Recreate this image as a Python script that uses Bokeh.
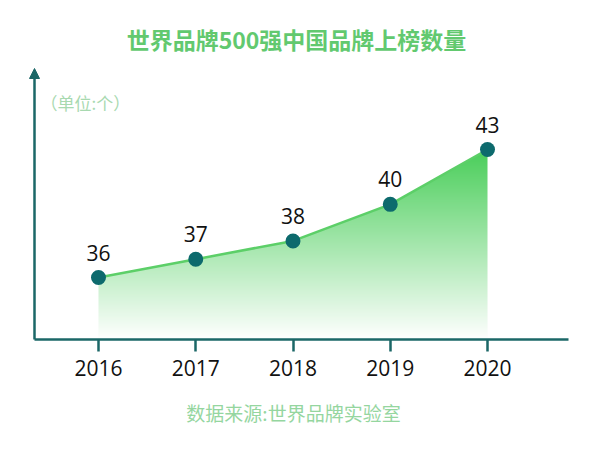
import numpy as np
from bokeh.plotting import figure
from bokeh.models import Range1d, FixedTicker, Arrow, NormalHead, Label
from bokeh.embed import file_html
from bokeh.resources import INLINE
from bokeh.core.properties import value

# ---- data ----
title_text = "世界品牌500强中国品牌上榜数量"
unit_text = "（单位:个）"
source_text = "数据来源:世界品牌实验室"
years = [2016, 2017, 2018, 2019, 2020]
year_labels = ["2016", "2017", "2018", "2019", "2020"]
counts = [36, 37, 38, 40, 43]

# ---- layout (pixels) ----
W, H = 600, 458
AX_L, AX_R, AX_T, AX_B = 34, 568, 68, 339
px_first, px_last = 98, 487
py_low, py_high = 277, 149

sx = (px_last - px_first) / (years[-1] - years[0])
sy = (py_low - py_high) / (max(counts) - min(counts))
x0 = years[0] - px_first / sx
x1 = years[-1] + (W - px_last) / sx
y0 = min(counts) - (H - py_low) / sy
y1 = max(counts) + py_high / sy


def xd(px):
    return x0 + px / sx


def yd(py):
    return y0 + (H - py) / sy


teal = "#1b6767"
dot_color = "#0d6a6d"
line_green = "#5ccf68"
top_rgb = (74, 206, 90)

p = figure(width=W, height=H, x_range=Range1d(x0, x1), y_range=Range1d(y0, y1),
           output_backend="svg", toolbar_location=None, y_axis_location=None,
           min_border=0, outline_line_color=None,
           background_fill_color="white", border_fill_color="white")
p.grid.visible = False

# x axis, placed inside the frame
ax = p.xaxis[0]
ax.fixed_location = yd(AX_B)
ax.bounds = (xd(AX_L), xd(AX_R))
ax.ticker = FixedTicker(ticks=years)
ax.major_label_overrides = {y: s for y, s in zip(years, year_labels)}
ax.axis_line_color = teal
ax.axis_line_width = 2.5
ax.major_tick_line_color = teal
ax.major_tick_line_width = 2.5
ax.major_tick_out = 12
ax.major_tick_in = 0
ax.minor_tick_out = 0
ax.minor_tick_in = 0
ax.major_label_text_font = "Open Sans"
ax.major_label_text_font_size = "21px"
ax.major_label_text_color = "#111111"
ax.major_label_standoff = 8

# gradient area: vertical gradient image masked above the curve
N = 256
t = np.linspace(0.0, 1.0, N)
img = np.empty((N, 1), dtype=np.uint32)
view = img.view(dtype=np.uint8).reshape((N, 1, 4))
view[:, 0, 0] = (255 + (top_rgb[0] - 255) * t).astype(np.uint8)
view[:, 0, 1] = (255 + (top_rgb[1] - 255) * t).astype(np.uint8)
view[:, 0, 2] = (255 + (top_rgb[2] - 255) * t).astype(np.uint8)
view[:, 0, 3] = 255
base = yd(AX_B)
p.image_rgba(image=[img], x=years[0], y=base, dw=years[-1] - years[0],
             dh=max(counts) - base)
pad = 0.2
mask_x = [years[0] - pad] + years + [years[-1] + pad, years[-1] + pad, years[0] - pad]
mask_y = [counts[0]] + counts + [counts[-1], max(counts) + 1, max(counts) + 1]
p.patch(mask_x, mask_y, fill_color="white", line_color=None)

p.line(years, counts, line_color=line_green, line_width=2.5)
p.scatter(years, counts, size=15, fill_color=dot_color, line_color=None)
p.text(x=years, y=counts, text=[str(c) for c in counts], text_align="center",
       text_baseline="middle", y_offset=-25, text_font=value("Open Sans"),
       text_font_size="21px", text_color="#111111")

# y axis with arrow
p.add_layout(Arrow(end=NormalHead(size=10, fill_color=teal, line_color=teal, line_width=1),
                   x_start=xd(AX_L), y_start=yd(AX_B), x_end=xd(AX_L), y_end=yd(AX_T),
                   line_color=teal, line_width=2.5))

p.add_layout(Label(x=xd(296), y=yd(38), text=title_text, text_align="center",
                   text_baseline="middle", text_font="Noto Sans CJK SC",
                   text_font_size="23px", text_font_style="bold",
                   text_color="#62c96f"))
p.add_layout(Label(x=xd(40), y=yd(102), text=unit_text, text_align="left",
                   text_baseline="middle", text_font="Noto Sans CJK SC",
                   text_font_size="17px", text_color="#a8d9b0"))
p.add_layout(Label(x=xd(293), y=yd(412), text=source_text, text_align="center",
                   text_baseline="middle", text_font="Noto Sans CJK SC",
                   text_font_size="19px", text_color="#95d69f"))

open("out.html", "w").write(file_html(p, INLINE))
